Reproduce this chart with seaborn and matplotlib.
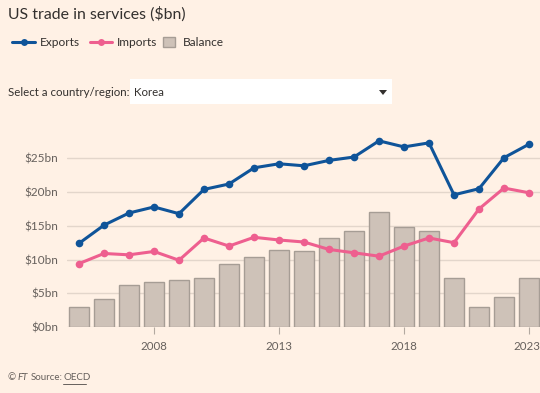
import matplotlib
matplotlib.use("Agg")
import matplotlib.pyplot as plt
from matplotlib.lines import Line2D
from matplotlib.patches import Rectangle, Polygon
from matplotlib.transforms import ScaledTranslation
import pandas as pd
import seaborn as sns

years = list(range(2005, 2024))
exports = [12.4, 15.1, 16.9, 17.8, 16.8, 20.4, 21.2, 23.6, 24.2, 23.9,
           24.7, 25.2, 27.6, 26.7, 27.3, 19.6, 20.5, 25.1, 27.1]
imports = [9.4, 10.9, 10.7, 11.2, 9.9, 13.2, 12.0, 13.3, 12.9, 12.6,
           11.5, 11.0, 10.5, 12.0, 13.2, 12.5, 17.5, 20.6, 19.9]
balance = [3.0, 4.2, 6.2, 6.7, 6.9, 7.3, 9.3, 10.4, 11.4, 11.3,
           13.2, 14.2, 17.0, 14.8, 14.2, 7.2, 3.0, 4.5, 7.2]
yticks = [0, 5, 10, 15, 20, 25]
xticks = [2008, 2013, 2018, 2023]

BG = "#FFF1E5"
BLUE = "#0F5499"
PINK = "#EE5F8F"
BAR = "#CEC2B8"
BAR_EDGE = "#A69D95"
GRID = "#E3D6CB"
TXT = "#66605C"
DARK = "#33302E"

sns.set_style("white")
plt.rcParams["font.family"] = ["Lato", "DejaVu Sans"]

df = pd.DataFrame({"year": years, "Exports": exports, "Imports": imports, "Balance": balance})

W, H = 540, 393


def fx(px):
    return px / W


def fy(py):
    return 1 - py / H


fig = plt.figure(figsize=(5.4, 3.93), dpi=100, facecolor=BG)
ax = fig.add_axes([fx(67), 66 / H, 473 / W, 195.6 / H])
ax.set_facecolor(BG)

sns.barplot(data=df, x="year", y="Balance", native_scale=True, width=0.8,
            color=BAR, edgecolor=BAR_EDGE, linewidth=1, saturation=1, ax=ax, zorder=2)
sns.lineplot(data=df, x="year", y="Exports", color=BLUE, linewidth=2.2,
             marker="o", markersize=5.5, markeredgewidth=0, ax=ax, zorder=3)
sns.lineplot(data=df, x="year", y="Imports", color=PINK, linewidth=2.2,
             marker="o", markersize=5.5, markeredgewidth=0, ax=ax, zorder=3)

ax.set_xlim(2004.52, 2023.44)
ax.set_ylim(0, 29)
ax.set_yticks(yticks)
ax.set_yticklabels([f"${v}bn" for v in yticks])
ax.set_xticks(xticks)
ax.set_xticklabels([str(y) for y in xticks])
ax.set_xlabel("")
ax.set_ylabel("")
ax.grid(axis="y", color=GRID, linewidth=1, zorder=0)
ax.set_axisbelow(True)
for s in ax.spines.values():
    s.set_visible(False)
ax.tick_params(axis="y", length=0, pad=6.5, labelsize=8.5, labelcolor=TXT)
ax.tick_params(axis="x", length=5, width=0.8, color="#B3A9A0", pad=5,
               labelsize=8.3, labelcolor=TXT, direction="out", bottom=True)
# nudge the last year label so it stays inside the figure
last = ax.get_xticklabels()[-1]
last.set_transform(last.get_transform() + ScaledTranslation(-2 / 100, 0, fig.dpi_scale_trans))

# title
fig.text(fx(8), fy(14), "US trade in services ($bn)", fontsize=11.4,
         color=DARK, va="center", ha="left")

# legend drawn by hand
ly = fy(42)
fig.add_artist(Line2D([fx(12), fx(35)], [ly, ly], color=BLUE, lw=2.2,
                      transform=fig.transFigure))
fig.add_artist(Line2D([fx(23.5)], [ly], color=BLUE, marker="o", markersize=5,
                      markeredgewidth=0, transform=fig.transFigure))
fig.text(fx(40), ly, "Exports", fontsize=8.6, color=DARK, va="center")
fig.add_artist(Line2D([fx(90), fx(112)], [ly, ly], color=PINK, lw=2.2,
                      transform=fig.transFigure))
fig.add_artist(Line2D([fx(101)], [ly], color=PINK, marker="o", markersize=5,
                      markeredgewidth=0, transform=fig.transFigure))
fig.text(fx(117), ly, "Imports", fontsize=8.6, color=DARK, va="center")
fig.add_artist(Rectangle((fx(163), fy(47)), 12 / W, 10 / H, transform=fig.transFigure,
                         facecolor=BAR, edgecolor=BAR_EDGE, linewidth=1))
fig.text(fx(183), ly, "Balance", fontsize=8.6, color=DARK, va="center")

# dropdown
fig.text(fx(8), fy(92), "Select a country/region:", fontsize=8.3,
         color=DARK, va="center", ha="left")
fig.add_artist(Rectangle((fx(130), fy(104)), 262 / W, 25 / H,
                         transform=fig.transFigure, facecolor="white", edgecolor="none"))
fig.text(fx(134), fy(92), "Korea", fontsize=8.3, color=DARK, va="center", ha="left")
fig.add_artist(Polygon([[fx(379), fy(90)], [fx(387), fy(90)], [fx(383), fy(95)]],
                       closed=True, transform=fig.transFigure,
                       facecolor=DARK, edgecolor="none"))

# footer
fty = fy(378)
fig.text(fx(8), fty, "©", fontsize=7, color=TXT, va="center")
fig.text(fx(18), fty, "FT", fontsize=7, color=TXT, va="center", style="italic")
fig.text(fx(31), fty, "Source:", fontsize=7, color=TXT, va="center")
fig.text(fx(63), fty, "OECD", fontsize=7, color=TXT, va="center")
fig.add_artist(Line2D([fx(63), fx(86)], [fy(384), fy(384)],
                      transform=fig.transFigure, color=TXT, lw=0.7))

fig.savefig("out.png", dpi=100, facecolor=BG)
